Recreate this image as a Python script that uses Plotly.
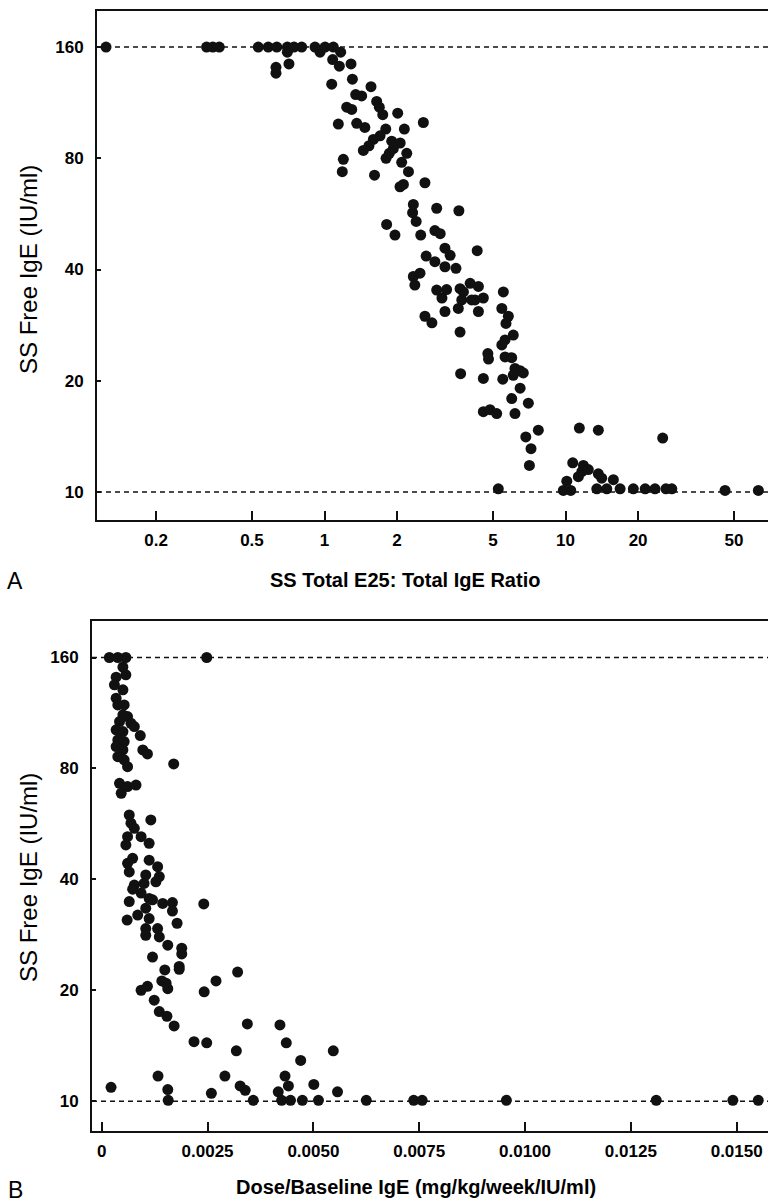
import plotly.graph_objects as go

# ---------------- Panel A data: SS Total E25 : Total IgE ratio vs SS free IgE ----------------
ratio_a = [0.124, 0.324, 0.344, 0.366, 0.531, 0.584, 0.634, 0.701, 0.701, 0.747,
           0.804, 0.913, 0.958, 1.005, 1.088, 1.167, 1.081, 1.152, 1.288, 0.629,
           0.629, 0.712, 1.071, 1.305, 1.559, 1.347, 1.426, 1.646, 1.688, 1.744,
           1.236, 1.297, 2.012, 1.141, 1.36, 1.47, 1.795, 1.70, 2.144, 2.57,
           1.594, 1.529, 1.449, 1.90, 2.06, 1.93, 1.857, 1.80, 2.194, 2.09,
           1.197, 1.185, 1.612, 2.23, 2.125, 2.057, 2.61, 2.336, 2.32, 2.40,
           1.81, 1.96, 2.507, 2.64, 2.336, 2.37, 2.49, 2.92, 3.61, 2.87,
           3.02, 4.30, 3.16, 3.32, 2.87, 3.16, 3.51, 2.92, 3.07, 3.21,
           3.65, 3.77, 3.71, 3.59, 4.02, 4.08, 4.35, 4.21, 4.56, 4.35,
           5.52, 3.16, 2.61, 2.79, 3.65, 5.44, 5.79, 5.66, 6.07, 5.61,
           5.44, 4.76, 4.79, 5.61, 5.98, 6.17, 6.48, 6.07, 6.68, 3.67,
           4.56, 5.49, 6.48, 5.98, 7.01, 4.56, 4.86, 5.18, 6.17, 6.84,
           7.71, 7.19, 7.08, 5.26, 11.41, 13.68, 25.3, 10.71, 11.86, 11.68,
           12.43, 11.30, 13.68, 14.13, 15.79, 10.12, 9.79, 10.51, 13.48, 14.83,
           16.84, 19.11, 21.4, 23.5, 26.1, 27.6, 45.9, 63.1]
free_ige_a = [160, 160, 160, 160, 160, 160, 160, 160, 155, 160,
              160, 160, 155, 160, 160, 155, 148, 142, 144, 141,
              136, 144, 127, 131, 125, 119, 118, 114, 110, 105,
              110, 108.5, 106, 99, 99.5, 97, 96, 92, 96, 100,
              90, 86.5, 84, 89, 88, 85, 82.5, 80, 82.5, 78,
              79.5, 73.6, 72, 73.6, 68, 67, 68.7, 60, 57, 54,
              53, 49.6, 49.6, 43.5, 38.3, 36.3, 39.1, 58.6, 57.7, 51,
              50, 45, 45.7, 43.7, 42, 40.7, 40.3, 35.2, 33.5, 35.3,
              35.5, 34.8, 33.1, 31.4, 36.7, 33.1, 36.0, 33.1, 33.5, 30.8,
              34.8, 30.8, 29.9, 28.7, 27.1, 31.4, 29.9, 28.6, 26.6, 25.8,
              25.0, 23.7, 22.9, 23.2, 23.1, 21.6, 21.3, 20.7, 21.0, 20.9,
              20.3, 20.2, 19.1, 17.9, 17.4, 16.5, 16.7, 16.3, 16.3, 14.1,
              14.7, 13.1, 11.8, 10.2, 14.9, 14.7, 14.0, 12.0, 11.8, 11.35,
              11.5, 11.0, 11.2, 10.9, 10.8, 10.7, 10.1, 10.1, 10.2, 10.2,
              10.2, 10.2, 10.2, 10.2, 10.2, 10.2, 10.1, 10.1]

# ---------------- Panel B data: dose / baseline IgE vs SS free IgE ----------------
dose_b = [0.00018, 0.00038, 0.00057, 0.00248,
          0.0005, 0.00057, 0.00034, 0.0003, 0.0005, 0.00034, 0.00038, 0.00053,
          0.0005, 0.00061, 0.00042, 0.00069, 0.00077, 0.00034, 0.0005, 0.00091,
          0.00038, 0.00053, 0.00097, 0.00108, 0.00034, 0.0005, 0.00038, 0.00053,
          0.00061, 0.0017, 0.00042, 0.00061, 0.00081, 0.00046, 0.00065, 0.00069,
          0.00116, 0.00061, 0.00077, 0.00093, 0.00112, 0.00057, 0.00073, 0.00061,
          0.00065, 0.00112, 0.00132, 0.00136, 0.00104, 0.001, 0.00128, 0.00077,
          0.00073, 0.00093, 0.00065, 0.00112, 0.0012, 0.00104, 0.00144, 0.00167,
          0.00167, 0.00241, 0.00085, 0.0006, 0.00112, 0.00178, 0.00104, 0.00132,
          0.00104, 0.00136, 0.00156, 0.00189, 0.00189, 0.0012, 0.00149, 0.00183,
          0.00183, 0.00321, 0.0027, 0.00093, 0.00108, 0.00142, 0.00156, 0.00152,
          0.00242, 0.00124, 0.00136, 0.00154, 0.00171, 0.00344, 0.00421, 0.00218,
          0.00248, 0.00436, 0.00318, 0.00547, 0.0047, 0.00133, 0.00291, 0.00433,
          0.00441, 0.00501, 0.00022, 0.00156, 0.00327, 0.00339, 0.00259, 0.00417,
          0.00557,
          0.00157, 0.00358, 0.00425, 0.00446, 0.00474, 0.00512, 0.00625, 0.00737,
          0.00757, 0.00956, 0.0131, 0.01491, 0.01551]
free_ige_b = [160, 160, 160, 160,
              150.7, 143.6, 141.5, 134.9, 130.7, 124.1, 119, 119,
              111.8, 110.6, 107.2, 106.1, 103.9, 101.8, 100.7, 98.2,
              95.6, 94.6, 89.8, 87.6, 91.7, 89.8, 86.1, 84.4,
              80.9, 82.3, 72.9, 71.4, 72.1, 68.5, 59.8, 56.8,
              58.0, 52.2, 55.0, 52.2, 50.1, 49.6, 45.6, 44.2,
              41.9, 45.1, 43.3, 40.7, 41.1, 39.0, 39.4, 38.6,
              37.6, 36.7, 34.8, 35.5, 35.2, 33.4, 34.4, 34.6,
              32.8, 34.3, 32.0, 31.0, 31.3, 30.4, 29.4, 29.4,
              28.2, 27.9, 26.5, 26.0, 25.1, 24.6, 22.7, 23.2,
              22.8, 22.4, 21.2, 20.0, 20.5, 21.2, 20.2, 20.9,
              19.8, 18.8, 17.5, 17.0, 16.0, 16.2, 16.1, 14.5,
              14.4, 14.4, 13.7, 13.7, 12.9, 11.7, 11.7, 11.7,
              11.0, 11.1, 10.9, 10.75, 11.0, 10.7, 10.5, 10.6,
              10.6,
              10.05, 10.05, 10.05, 10.05, 10.05, 10.05, 10.05, 10.05,
              10.05, 10.05, 10.05, 10.05, 10.05]

# axis ticks / reference levels
y_ticks = [10, 20, 40, 80, 160]
y_tick_text = ["10", "20", "40", "80", "160"]
x_ticks_a = [0.2, 0.5, 1, 2, 5, 10, 20, 50]
x_tick_text_a = ["0.2", "0.5", "1", "2", "5", "10", "20", "50"]
x_ticks_b = [0, 0.0025, 0.005, 0.0075, 0.01, 0.0125, 0.015]
x_tick_text_b = ["0", "0.0025", "0.0050", "0.0075", "0.0100", "0.0125", "0.0150"]
reference_levels = [10, 160]

W, H = 768, 1204
TICKFONT = dict(family="Liberation Sans, Arial, Helvetica", size=17, color="black", weight="bold")
INK = "#111111"

fig = go.Figure()
fig.add_trace(go.Scatter(x=ratio_a, y=free_ige_a, mode="markers", xaxis="x", yaxis="y",
                         marker=dict(size=11, color=INK, line=dict(width=0)), showlegend=False))
fig.add_trace(go.Scatter(x=dose_b, y=free_ige_b, mode="markers", xaxis="x2", yaxis="y2",
                         marker=dict(size=11, color=INK, line=dict(width=0)), showlegend=False))

def px_x(p):
    return p / W

def px_y(p):
    return 1 - p / H

common_axis = dict(showgrid=False, zeroline=False, showline=True, linecolor=INK, linewidth=2,
                   ticks="inside", tickcolor=INK, tickfont=TICKFONT)

fig.update_layout(
    width=W, height=H, margin=dict(l=0, r=0, t=0, b=0),
    paper_bgcolor="white", plot_bgcolor="white",
    xaxis=dict(domain=[px_x(97), 1], type="log", range=[-0.944, 1.840],
               tickvals=x_ticks_a, ticktext=x_tick_text_a, ticklen=9, tickwidth=2,
               ticklabelstandoff=4, mirror=True, anchor="y", **common_axis),
    yaxis=dict(domain=[px_y(520), px_y(11)], type="log", range=[0.9243, 2.3017],
               tickvals=y_ticks, ticktext=y_tick_text, ticklen=4, tickwidth=1.5,
               ticklabelstandoff=8, anchor="x", **common_axis),
    xaxis2=dict(domain=[px_x(92), 1], type="linear", range=[-0.00023, 0.01574],
                tickvals=x_ticks_b, ticktext=x_tick_text_b, ticklen=9, tickwidth=2,
                ticklabelstandoff=4, mirror=True, anchor="y2", **common_axis),
    yaxis2=dict(domain=[px_y(1131), px_y(621)], type="log", range=[0.919, 2.3032],
                tickvals=y_ticks, ticktext=y_tick_text, ticklen=4, tickwidth=1.5,
                ticklabelstandoff=8, anchor="x2", **common_axis),
)

for xr, yr in (("x domain", "y"), ("x2 domain", "y2")):
    for lvl in reference_levels:
        fig.add_shape(type="line", xref=xr, yref=yr, x0=0, x1=1, y0=lvl, y1=lvl,
                      line=dict(color=INK, width=1.5, dash="5px,4px"), layer="below")

title_font = dict(family="Liberation Sans, Arial, Helvetica", size=24, color="black")
bold_font = dict(family="Liberation Sans, Arial, Helvetica", size=20, color="black", weight="bold")
label_font = dict(family="Liberation Sans, Arial, Helvetica", size=23, color="black")

annotations = [
    dict(text="SS Free IgE (IU/ml)", x=px_x(29), y=px_y(270), textangle=-90, font=title_font),
    dict(text="SS Free IgE (IU/ml)", x=px_x(29), y=px_y(878), textangle=-90, font=title_font),
    dict(text="SS Total E25: Total IgE Ratio", x=px_x(405), y=px_y(580), font=bold_font),
    dict(text="Dose/Baseline IgE (mg/kg/week/IU/ml)", x=px_x(416), y=px_y(1187), font=bold_font),
    dict(text="A", x=px_x(15), y=px_y(581), font=label_font),
    dict(text="B", x=px_x(15), y=px_y(1190), font=label_font),
]
for a in annotations:
    fig.add_annotation(xref="paper", yref="paper", showarrow=False,
                       xanchor="center", yanchor="middle", **a)

fig.write_html("out.html")
